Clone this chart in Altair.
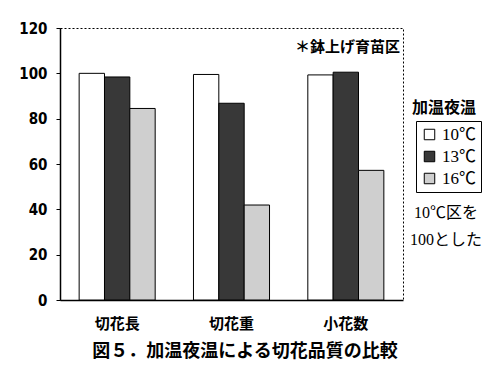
import altair as alt
import pandas as pd

categories = ["切花長", "切花重", "小花数"]
temps = ["10℃", "13℃", "16℃"]
v10 = [100, 99.5, 99.3]
v13 = [98.4, 86.8, 100.5]
v16 = [84.5, 41.9, 57.2]
colors = ["#ffffff", "#383838", "#cfcfcf"]

rows = []
for i, c in enumerate(categories):
    for t, vals in zip(temps, [v10, v13, v16]):
        rows.append({"cat": c, "temp": t, "value": vals[i]})
df = pd.DataFrame(rows)

W, H = 343, 272
JP = "Noto Sans CJK JP"

bars = alt.Chart(df).mark_bar(stroke="black", strokeWidth=1).encode(
    x=alt.X("cat:N", sort=categories, title=None,
            scale=alt.Scale(paddingInner=0.335, paddingOuter=0.1675),
            axis=alt.Axis(labelAngle=0, labelFont=JP, labelFontSize=15,
                          labelFontWeight="bold", labelColor="black",
                          labelPadding=16, ticks=False, domainColor="black",
                          domainWidth=1.5)),
    xOffset=alt.XOffset("temp:N", sort=temps),
    y=alt.Y("value:Q", title=None,
            scale=alt.Scale(domain=[0, 120], nice=False),
            axis=alt.Axis(values=[0, 20, 40, 60, 80, 100, 120], grid=False,
                          labelFont="Liberation Sans Narrow, DejaVu Sans Condensed, " + JP,
                          labelFontSize=15, labelFontWeight="bold",
                          labelColor="black", labelPadding=9, tickSize=4,
                          tickColor="black", domainColor="black",
                          domainWidth=1.5)),
    fill=alt.Fill("temp:N", sort=temps,
                  scale=alt.Scale(domain=temps, range=colors),
                  legend=alt.Legend(title=None, orient="none", legendX=356,
                                    legendY=93, symbolType="square",
                                    symbolSize=110, symbolStrokeColor="black",
                                    symbolStrokeWidth=1,
                                    labelFont="Liberation Serif, " + JP,
                                    labelFontSize=17, labelColor="black",
                                    rowPadding=4, padding=5,
                                    strokeColor="black",
                                    labelOffset=4)),
)

texts = pd.DataFrame({
    "t": ["＊鉢上げ育苗区", "加温夜温", "10℃区を", "100とした",
          "図５．加温夜温による切花品質の比較"],
    "x": [340, 384, 386, 386, 185],
    "y": [19, 80, 185, 212, 324],
    "align": ["right", "center", "center", "center", "center"],
    "size": [15, 16, 16, 16, 18],
    "font": [JP, JP, "Liberation Serif, " + JP, "Liberation Serif, " + JP, JP],
    "weight": ["bold", "bold", "normal", "normal", "bold"],
})

layers = []
for _, r in texts.iterrows():
    layers.append(
        alt.Chart(pd.DataFrame({"t": [r["t"]]})).mark_text(
            align=r["align"], baseline="middle", fontSize=int(r["size"]),
            font=r["font"], fontWeight=r["weight"], color="black"
        ).encode(x=alt.value(int(r["x"])), y=alt.value(int(r["y"])), text="t:N")
    )

chart = alt.layer(bars, *layers).properties(
    width=W, height=H,
    autosize=alt.AutoSizeParams(type="none"),
    padding={"left": 52, "top": 20, "right": 81, "bottom": 64},
    background="white",
).configure_view(stroke="black", strokeDash=[2, 2], strokeWidth=1)

chart.save("out.html", embed_options={"renderer": "svg", "actions": False})
